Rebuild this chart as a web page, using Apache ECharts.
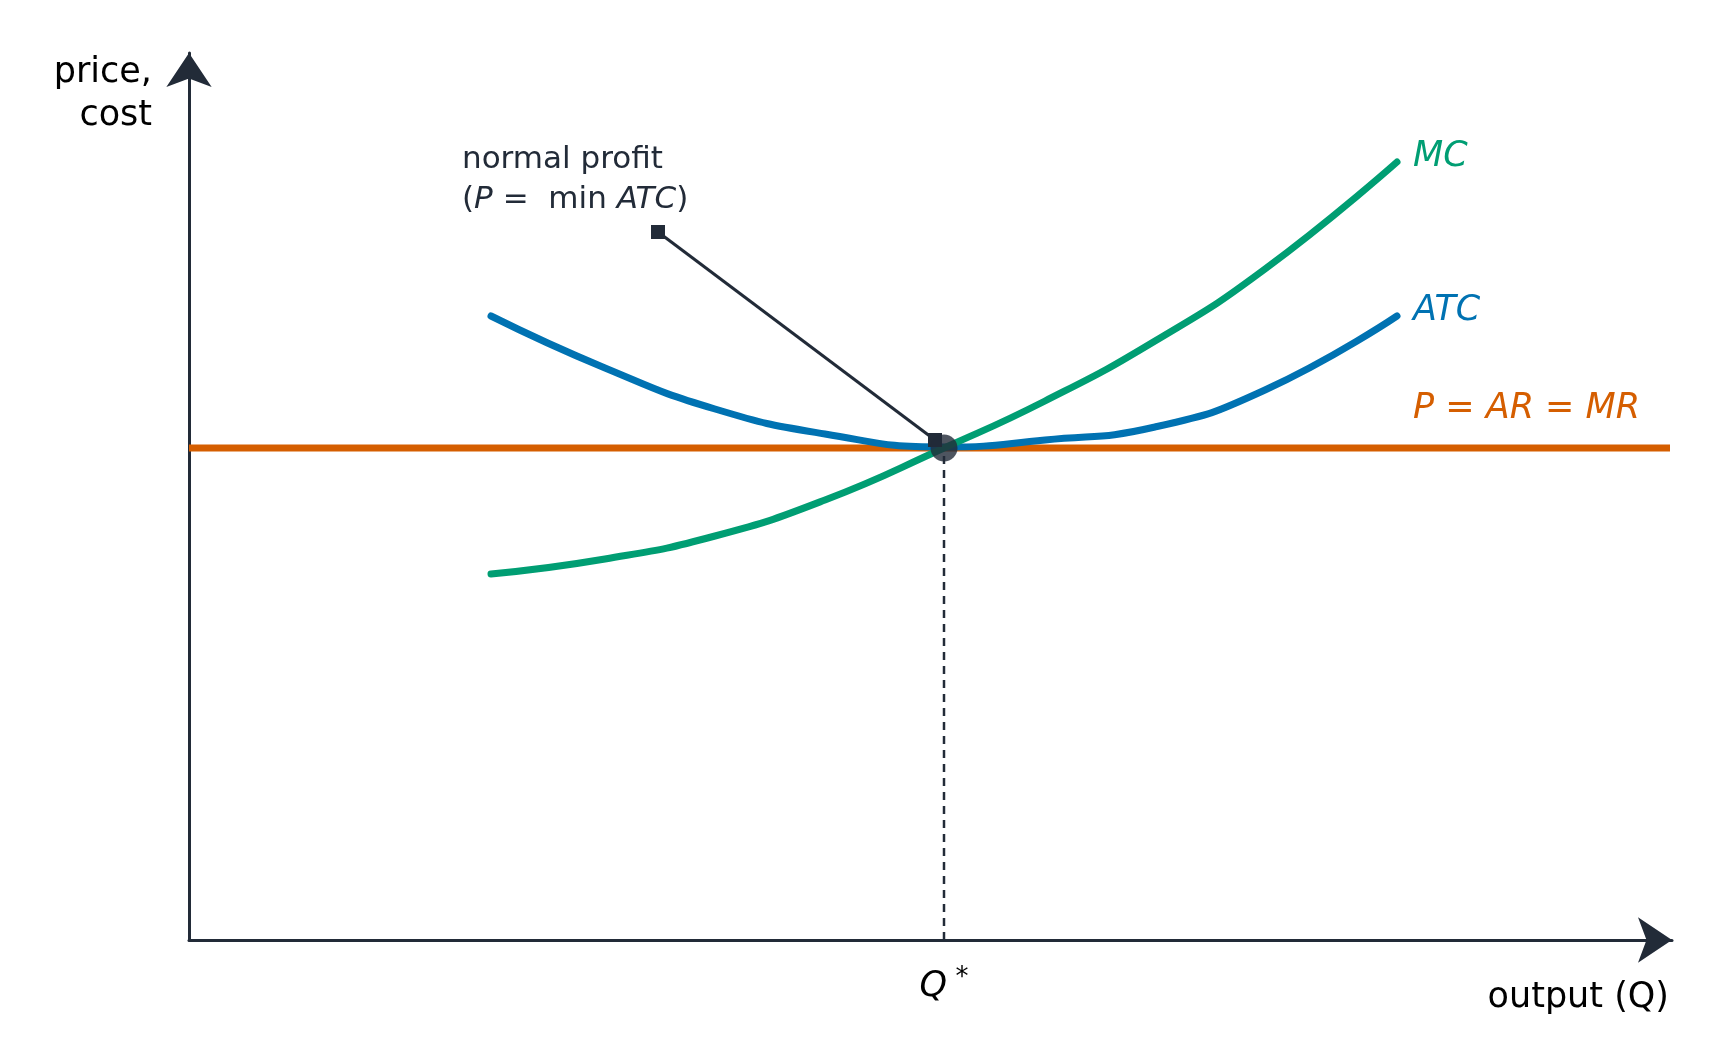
<!DOCTYPE html>
<html><head><meta charset="utf-8">
<script src="https://cdn.jsdelivr.net/npm/echarts@6/dist/echarts.min.js"></script>
<style>html,body{margin:0;background:#fff}#c{width:1726px;height:1060px}</style>
</head><body><div id="c"></div>
<script>
const atcPoints = [[3.02,6.24],[4.16,5.72],[5.26,5.31],[6.36,5.06],[7.55,4.93],[8.56,5.0],[9.66,5.13],[10.76,5.50],[12.08,6.24]];
const mcPoints = [[3.02,3.66],[4.16,3.81],[5.26,4.04],[6.36,4.40],[7.55,4.92],[8.56,5.39],[9.66,5.99],[10.76,6.71],[12.08,7.78]];
const priceLevel = 4.92;
const priceRange = [0, 14.81];
const qStar = 7.55;
const arrowFrom = [4.69, 7.08], arrowTo = [7.46, 5.0];
const ink = '#222b38', green = '#009e73', blue = '#0072b2', orange = '#d55e00';
const F = 'DejaVu Sans';
const chart = echarts.init(document.getElementById('c'));
const axisBase = {type:'value', min:0, splitLine:{show:false}, axisTick:{show:false}, axisLabel:{show:false},
  axisLine:{show:true, symbol:['none','arrow'], symbolSize:[34,34], symbolOffset:[0,0], lineStyle:{color:ink,width:3}}};
chart.setOption({
  animation:false,
  grid:{left:189, right:54, top:53, bottom:120},
  xAxis:Object.assign({}, axisBase, {max:14.83}),
  yAxis:Object.assign({}, axisBase, {max:8.87}),
  series:[
    {type:'line', data:[[priceRange[0],priceLevel],[priceRange[1],priceLevel]], symbol:'none', lineStyle:{color:orange,width:7}, z:3},
    {type:'line', data:atcPoints, smooth:true, symbol:'none', lineStyle:{color:blue,width:7,cap:'round'}, z:4},
    {type:'line', data:mcPoints, smooth:true, symbol:'none', lineStyle:{color:green,width:7,cap:'round'}, z:5},
    {type:'line', data:[[qStar,0],[qStar,priceLevel]], symbol:'none', lineStyle:{color:ink,width:2.5,type:[8,6]}, z:2},
    {type:'scatter', data:[[qStar,priceLevel]], symbolSize:27, itemStyle:{color:ink}, z:10},
    {type:'line', data:[arrowFrom, arrowTo], symbol:['none','arrow'], symbolSize:[14,14], showSymbol:true,
     lineStyle:{color:ink,width:3}, itemStyle:{color:ink}, z:9}
  ],
  graphic:[
    {type:'text', left:null, x:152, y:73, style:{text:'price,', font:'35px '+F, fill:'#000', align:'right', verticalAlign:'middle'}},
    {type:'text', x:152, y:116, style:{text:'cost', font:'35px '+F, fill:'#000', align:'right', verticalAlign:'middle'}},
    {type:'text', x:1669, y:998, style:{text:'output (Q)', font:'35px '+F, fill:'#000', align:'right', verticalAlign:'middle'}},
    {type:'text', x:944, y:987, style:{text:'{i|Q}{s| *}', align:'center', verticalAlign:'middle',
      rich:{i:{font:'italic 35px '+F, fill:'#000'}, s:{font:'26px '+F, fill:'#000', verticalAlign:'top', padding:[0,0,18,0]}}}},
    {type:'text', x:462, y:160, style:{text:'normal profit', font:'31px '+F, fill:ink, verticalAlign:'middle'}},
    {type:'text', x:462, y:200, style:{text:'({i|P} =  min {i|ATC})', font:'31px '+F, fill:ink, verticalAlign:'middle',
      rich:{i:{font:'italic 31px '+F, fill:ink}}}},
    {type:'text', x:1413, y:157, style:{text:'MC', font:'italic 35px '+F, fill:green, verticalAlign:'middle'}},
    {type:'text', x:1413, y:311, style:{text:'ATC', font:'italic 35px '+F, fill:blue, verticalAlign:'middle'}},
    {type:'text', x:1413, y:409, style:{text:'P = AR = MR', font:'italic 35px '+F, fill:orange, verticalAlign:'middle'}}
  ]
});
</script></body></html>
